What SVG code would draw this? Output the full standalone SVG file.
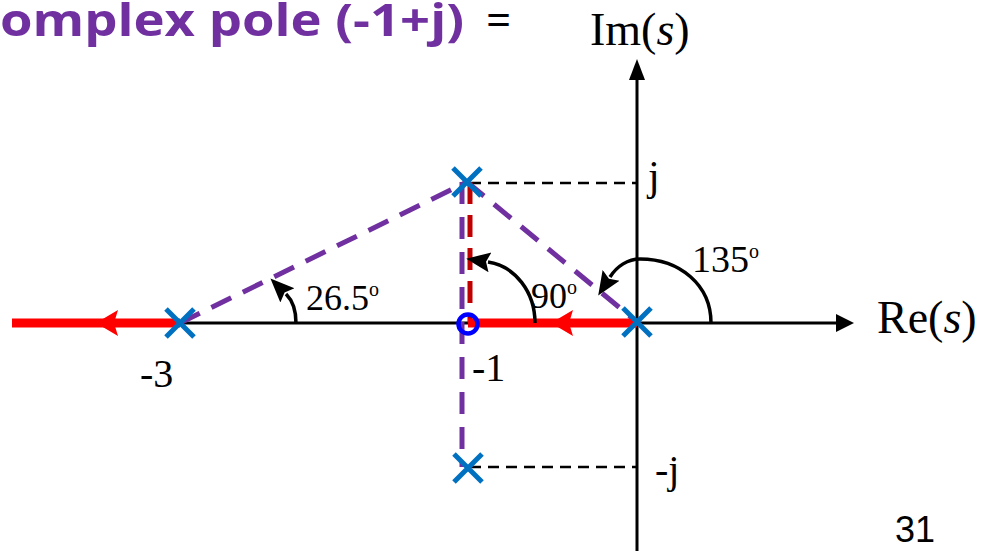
<svg xmlns="http://www.w3.org/2000/svg" width="981" height="551" viewBox="0 0 981 551">
<style>
.lbl{font-family:"Liberation Serif","Times New Roman",serif;fill:#000}
.sup{font-size:20px}
.ttl{font-family:"Open Sans","Noto Sans",sans-serif;font-size:44px}
.axis{stroke:#000;stroke-width:3;fill:none}
.bdash{stroke:#000;stroke-width:2.5;stroke-dasharray:11 7;fill:none}
.pdash{stroke:#7030A0;stroke-width:5;stroke-dasharray:22 13;fill:none}
.rdash{stroke:#C00000;stroke-width:5;stroke-dasharray:22 11;fill:none}
.locus{stroke:#FF0000;stroke-width:9;fill:none}
.arc{stroke:#000;stroke-width:3.5;fill:none;marker-end:url(#ah)}
.pole{stroke:#0070C0;stroke-width:5;fill:none}
</style>
<defs>
<marker id="ah" markerUnits="userSpaceOnUse" markerWidth="26" markerHeight="22" refX="2" refY="11" orient="auto">
<path d="M0,1 L24,11 L0,21 L4,11 z" fill="#000"/>
</marker>
</defs>
<rect width="981" height="551" fill="#fff"/>
<g id="title">
<text class="ttl" x="0" y="36" font-weight="bold" fill="#7030A0" textLength="464" lengthAdjust="spacingAndGlyphs">omplex pole (-1+j)</text>
<text class="ttl" x="486" y="36" fill="#000">=</text>
</g>
<g id="connectors">
<line class="axis" x1="180" y1="323" x2="840" y2="323"/>
<polygon points="854,323 836,314 836,332" fill="#000"/>
<line class="axis" x1="637" y1="76" x2="637" y2="551"/>
<polygon points="637,59 629,80 645,80" fill="#000"/>
<line class="bdash" x1="470" y1="183" x2="636" y2="183"/>
<line class="bdash" x1="470" y1="467" x2="636" y2="467"/>
<line class="pdash" x1="180" y1="323" x2="467" y2="182"/>
<line class="pdash" x1="467" y1="182" x2="637" y2="322"/>
<line class="pdash" x1="462" y1="182" x2="462" y2="467"/>
<line class="rdash" x1="470" y1="182" x2="470" y2="323"/>
<line class="locus" x1="12" y1="323" x2="180" y2="323" stroke-width="8"/>
<polygon points="96,323 118,310 114,323 118,336" fill="#FF0000"/>
<line class="locus" x1="468" y1="323" x2="637" y2="323" stroke-width="10"/>
<polygon points="551,323 573,310 569,323 573,336" fill="#FF0000"/>
<path class="arc" d="M296,323 C296,311 292,300 286,294"/>
<path class="arc" d="M535,323 C535,292 515,266 488,262"/>
<path class="arc" d="M711,323 C711,285 680,259 640,259 C628,259 617,266 610,277"/>
</g>
<g id="pole-m3"><path class="pole" d="M166,309 L194,337 M194,309 L166,337"/></g>
<g id="pole-top"><path class="pole" d="M453,168 L481,196 M481,168 L453,196"/></g>
<g id="pole-bottom"><path class="pole" d="M454,454 L482,482 M482,454 L454,482"/></g>
<g id="pole-origin"><path class="pole" d="M623,308 L651,336 M651,308 L623,336"/></g>
<g id="zero"><circle cx="468" cy="324" r="9.5" fill="none" stroke="#0000FF" stroke-width="4.5"/></g>
<g id="labels">
<text class="lbl" x="590" y="45" font-size="46">Im(<tspan font-style="italic">s</tspan>)</text>
<text class="lbl" x="877" y="333" font-size="46">Re(<tspan font-style="italic">s</tspan>)</text>
<text class="lbl" x="648" y="190" font-size="42">j</text>
<text class="lbl" x="655" y="483" font-size="40">-j</text>
<text class="lbl" x="140" y="387" font-size="40">-3</text>
<text class="lbl" x="472" y="381" font-size="40">-1</text>
<text class="lbl" x="306" y="310" font-size="36">26.5<tspan class="sup" dy="-14">o</tspan></text>
<text class="lbl" x="531" y="308" font-size="36">90<tspan class="sup" dy="-14">o</tspan></text>
<text class="lbl" x="692" y="272" font-size="38">135<tspan class="sup" dy="-14">o</tspan></text>
<text x="895" y="542" font-family="'Liberation Sans',Arial,sans-serif" font-size="36" fill="#000">31</text>
</g>
</svg>
